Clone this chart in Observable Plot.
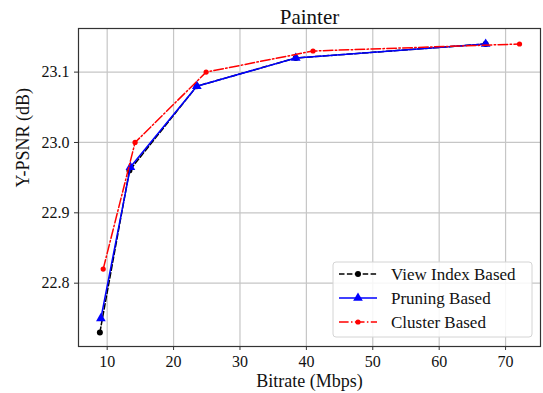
<!DOCTYPE html>
<html>
<head>
<meta charset="utf-8">
<script src="https://cdn.jsdelivr.net/npm/d3@7"></script>
<script src="https://cdn.jsdelivr.net/npm/@observablehq/plot@0.6"></script>
<style>
  html, body { margin: 0; padding: 0; background: #fff; }
  #chart { width: 543px; height: 393px; }
</style>
</head>
<body>
<div id="chart"></div>
<script>
const title = "Painter";
const xLabel = "Bitrate (Mbps)";
const yLabel = "Y-PSNR (dB)";
const xTicks = [10, 20, 30, 40, 50, 60, 70];
const yTicks = [22.8, 22.9, 23.0, 23.1];

const seriesNames = ["View Index Based", "Pruning Based", "Cluster Based"];

const bitrateView = [8.9, 13.35, 23.5, 38.4, 67.0];
const psnrView = [22.73, 22.96, 23.08, 23.12, 23.14];

const bitratePruning = [9.05, 13.5, 23.5, 38.4, 67.0];
const psnrPruning = [22.75, 22.965, 23.08, 23.12, 23.14];

const bitrateCluster = [9.4, 14.2, 24.9, 41.0, 72.1];
const psnrCluster = [22.82, 23.0, 23.1, 23.13, 23.14];

const toRows = (xs, ys) => xs.map((x, i) => ({x, y: ys[i]}));
const view = toRows(bitrateView, psnrView);
const pruning = toRows(bitratePruning, psnrPruning);
const cluster = toRows(bitrateCluster, psnrCluster);

const styles = [
  {color: "#000000", dash: "5.5,2.4", symbol: "circle", r: 3},
  {color: "#0000ff", dash: null, symbol: "triangle", r: 3.6},
  {color: "#ff0000", dash: "9.6,2.4,1.5,2.4", symbol: "circle", r: 2.6}
];

const grid = "#c6c6c6";
const font = "'Liberation Serif', 'Times New Roman', serif";

const plot = Plot.plot({
  width: 543,
  height: 393,
  marginLeft: 78,
  marginRight: 3,
  marginTop: 28,
  marginBottom: 47,
  style: {fontFamily: font, fontSize: "16px", background: "#fff", color: "#111"},
  x: {domain: [5.68, 75.26]},
  y: {domain: [22.71, 23.162]},
  marks: [
    Plot.gridX(xTicks, {stroke: grid, strokeOpacity: 1, strokeWidth: 1.2}),
    Plot.gridY(yTicks, {stroke: grid, strokeOpacity: 1, strokeWidth: 1.2}),
    Plot.axisX(xTicks, {tickSize: 4, tickPadding: 5, label: null, fontSize: 16, stroke: "#333"}),
    Plot.axisY(yTicks, {tickSize: 4, tickPadding: 5, label: null, fontSize: 16, tickFormat: ".1f", stroke: "#333"}),
    Plot.line(view, {x: "x", y: "y", stroke: styles[0].color, strokeWidth: 1.5, strokeDasharray: styles[0].dash}),
    Plot.dot(view, {x: "x", y: "y", fill: styles[0].color, r: styles[0].r, stroke: "none"}),
    Plot.line(pruning, {x: "x", y: "y", stroke: styles[1].color, strokeWidth: 1.5}),
    Plot.dot(pruning, {x: "x", y: "y", fill: styles[1].color, symbol: "triangle", r: styles[1].r, stroke: "none"}),
    Plot.line(cluster, {x: "x", y: "y", stroke: styles[2].color, strokeWidth: 1.5, strokeDasharray: styles[2].dash}),
    Plot.dot(cluster, {x: "x", y: "y", fill: styles[2].color, r: styles[2].r, stroke: "none"}),
    Plot.frame({stroke: "#333", strokeWidth: 1.2}),
    Plot.text([title], {frameAnchor: "top", lineAnchor: "bottom", dy: -5, fontSize: 21, fill: "#111"}),
    Plot.text([xLabel], {frameAnchor: "bottom", lineAnchor: "bottom", dy: 40, fontSize: 18, fill: "#111"}),
    Plot.text([yLabel], {frameAnchor: "left", rotate: -90, dx: -55, fontSize: 18, fill: "#111"})
  ]
});

document.getElementById("chart").appendChild(plot);

// Legend (matplotlib-style box, lower right)
const svg = d3.select(plot);
const lg = svg.append("g").attr("transform", "translate(333,262)");
lg.append("rect").attr("x", 0).attr("y", 0).attr("width", 199).attr("height", 75)
  .attr("rx", 3).attr("fill", "#ffffff").attr("fill-opacity", 0.85)
  .attr("stroke", "#d4d4d4").attr("stroke-width", 1);
seriesNames.forEach((name, i) => {
  const s = styles[i];
  const cy = 12 + i * 24;
  lg.append("line").attr("x1", 6).attr("x2", 44).attr("y1", cy).attr("y2", cy)
    .attr("stroke", s.color).attr("stroke-width", 1.5)
    .attr("stroke-dasharray", s.dash);
  if (s.symbol === "triangle") {
    lg.append("path").attr("transform", `translate(25,${cy})`)
      .attr("d", d3.symbol(d3.symbolTriangle, Math.PI * s.r * s.r)())
      .attr("fill", s.color);
  } else {
    lg.append("circle").attr("cx", 25).attr("cy", cy).attr("r", s.r).attr("fill", s.color);
  }
  lg.append("text").attr("x", 58).attr("y", cy).attr("dy", "0.35em")
    .attr("text-anchor", "start")
    .attr("font-family", font)
    .attr("font-size", 17).attr("fill", "#111").text(name);
});
</script>
</body>
</html>
